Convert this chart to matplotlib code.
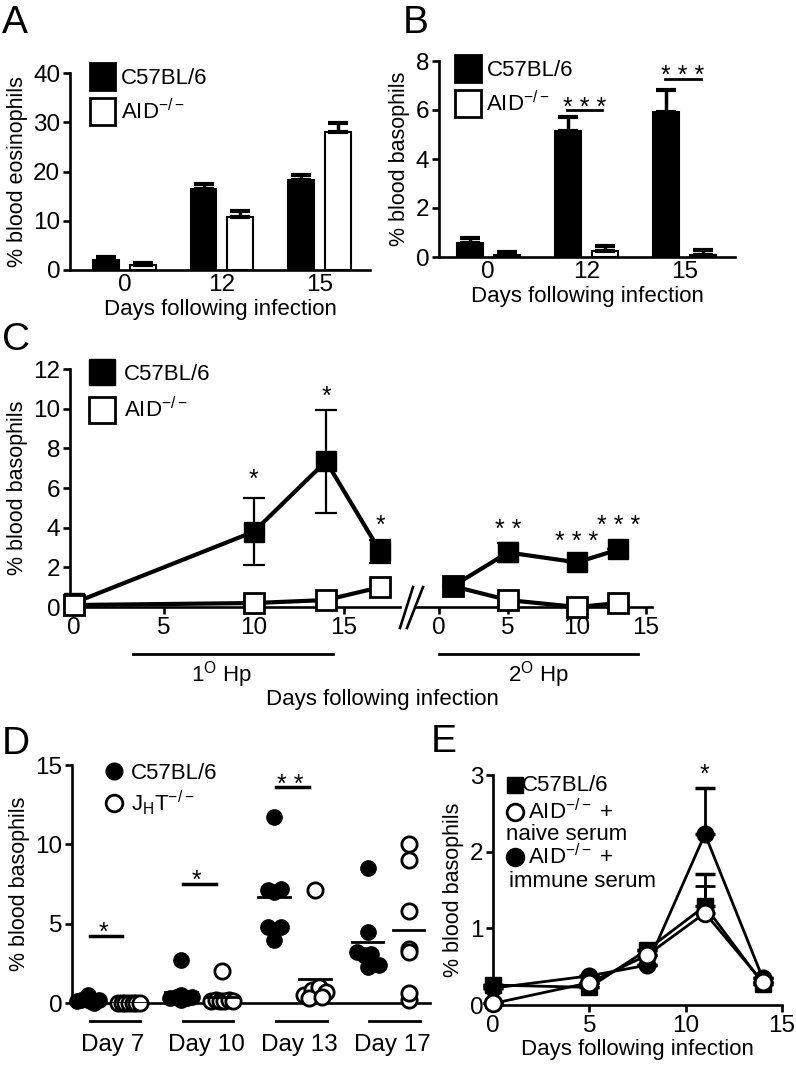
import numpy as np
import matplotlib
matplotlib.use('Agg')
import matplotlib.pyplot as plt
from matplotlib.patches import Patch
from matplotlib.lines import Line2D

plt.rcParams['font.family'] = ['Liberation Sans', 'DejaVu Sans']
plt.rcParams['mathtext.fontset'] = 'custom'
plt.rcParams['mathtext.rm'] = 'Liberation Sans'
plt.rcParams['mathtext.it'] = 'Liberation Sans:italic'
plt.rcParams['mathtext.bf'] = 'Liberation Sans:bold'

# ---- data ----
# A: blood eosinophils
days_ab = ['0', '12', '15']
eos_wt = [2.0, 16.5, 18.3]
eos_wt_err = [0.7, 0.9, 1.0]
eos_aid = [1.0, 10.7, 28.0]
eos_aid_err = [0.5, 1.3, 1.8]

# B: blood basophils
baso_wt = [0.57, 5.15, 5.9]
baso_wt_err = [0.22, 0.55, 0.9]
baso_aid = [0.1, 0.25, 0.1]
baso_aid_err = [0.12, 0.2, 0.2]
b_sig = ['', '***', '***']
b_sig_line = [0, 6.0, 7.27]
b_sig_star = [0, 6.4, 7.7]

# C: primary and secondary infection
c1_days = [0, 10, 14, 17]
c1_wt = [0.2, 3.8, 7.35, 2.8]
c1_wt_err = [0, 1.7, 2.6, 0.6]
c1_aid = [0.1, 0.2, 0.35, 1.0]
c1_sig = ['', '*', '*', '*']
c1_sig_star = [0, 6.77, 10.96, 4.49]
c2_days = [1, 5, 10, 13]
c2_wt = [1.05, 2.75, 2.25, 2.9]
c2_wt_err = [0, 0.5, 0, 0]
c2_aid = [1.05, 0.35, 0.0, 0.2]
c2_sig = ['', '**', '***', '***']
c2_sig_star = [0, 4.24, 3.64, 4.44]

# D: individual mice
d_days = ['Day 7', 'Day 10', 'Day 13', 'Day 17']
d_wt = [[0.1, 0.2, 0.5, 0.3, 0.1, 0.0, 0.2],
        [0.3, 0.5, 0.4, 0.2, 0.3, 2.7, 0.4],
        [11.7, 7.1, 7.0, 7.2, 4.8, 4.0, 4.8],
        [8.5, 4.5, 3.2, 3.0, 3.1, 2.4, 2.3]]
d_jht = [[0, 0, 0, 0, 0, 0, 0],
         [2.0, 0.1, 0.2, 0.1, 0.1, 0.2, 0.1],
         [7.1, 0.5, 0.8, 1.0, 0.7, 0.3, 0.4],
         [10.0, 9.0, 5.8, 3.4, 3.2, 0.2, 0.6]]
d_sig = ['*', '*', '**', '']
d_sig_line = [4.2, 7.5, 13.6, 0]
d_sig_star = [4.9, 8.2, 14.2, 0]

# E: serum transfer
e_days = [0, 5, 8, 11, 14]
e_wt = [0.26, 0.23, 0.72, 1.29, 0.28]
e_wt_err = [0, 0, 0, 0.42, 0]
e_naive = [0.02, 0.29, 0.65, 1.2, 0.3]
e_naive_err = [0, 0, 0, 0.35, 0]
e_immune = [0.22, 0.38, 0.52, 2.23, 0.35]
e_immune_err = [0, 0, 0, 0.6, 0]
e_sig_day = 11
e_sig_star = 3.1

AID = 'AID$^{-/-}$'
W, H = 796, 1075
FS = 16
TFS = 17.5
LW = 1.9
STAR_FS = 18

fig = plt.figure(figsize=(W / 100, H / 100), dpi=100)


def add_ax(l, t, r, b):
    ax = fig.add_axes([l / W, 1 - b / H, (r - l) / W, (b - t) / H])
    for s in ['top', 'right']:
        ax.spines[s].set_visible(False)
    for s in ['left', 'bottom']:
        ax.spines[s].set_linewidth(LW)
    ax.tick_params(width=LW, length=5, labelsize=TFS, direction='out', pad=2)
    return ax


def fig_line(x0, y0, x1, y1, lw=LW):
    fig.add_artist(Line2D([x0 / W, x1 / W], [1 - y0 / H, 1 - y1 / H], color='k', lw=lw))


def star(ax, x, y, s):
    # y is the visual centre of the asterisks
    ax.annotate(' '.join(s), (x, y), xytext=(0, -0.58 * STAR_FS), textcoords='offset points',
                ha='center', va='baseline', fontsize=STAR_FS, annotation_clip=False)


# ---- A ----
ax = add_ax(70, 73, 370, 270)
x = np.arange(len(days_ab))
bw, off = 0.264, 0.188
ax.bar(x - off, eos_wt, bw, color='k', edgecolor='k', lw=1.5)
ax.bar(x + off, eos_aid, bw, color='w', edgecolor='k', lw=1.5)
ax.errorbar(x - off, eos_wt, yerr=[np.zeros(3), eos_wt_err], fmt='none', ecolor='k', elinewidth=2.5, capsize=7, capthick=3)
ax.errorbar(x + off, eos_aid, yerr=[np.zeros(3), eos_aid_err], fmt='none', ecolor='k', elinewidth=2.5, capsize=7, capthick=3)
ax.set_xlim(-0.56, 2.52)
ax.set_ylim(0, 40)
ax.set_yticks([0, 10, 20, 30, 40])
ax.set_xticks(x, days_ab)
ax.tick_params(axis='x', length=0, pad=3)
ax.set_xlabel('Days following infection', fontsize=FS, labelpad=2)
ax.set_ylabel('% blood eosinophils', fontsize=15.5)
ax.legend([Patch(facecolor='k', edgecolor='k', lw=2), Patch(facecolor='w', edgecolor='k', lw=2)],
          ['C57BL/6', AID], loc='upper left', bbox_to_anchor=(0.065, 1.05), frameon=False,
          fontsize=FS, handlelength=1.15, handleheight=1.45, handletextpad=0.25, labelspacing=0.4,
          borderpad=0, borderaxespad=0)

# ---- B ----
ax = add_ax(439, 61, 735, 257)
ax.bar(x - off, baso_wt, bw, color='k', edgecolor='k', lw=1.5)
ax.bar(x + off, baso_aid, bw, color='w', edgecolor='k', lw=1.5)
ax.errorbar(x - off, baso_wt, yerr=[np.zeros(3), baso_wt_err], fmt='none', ecolor='k', elinewidth=2.5, capsize=7, capthick=3)
ax.errorbar(x + off, baso_aid, yerr=[np.zeros(3), baso_aid_err], fmt='none', ecolor='k', elinewidth=2.5, capsize=7, capthick=3)
for i, s in enumerate(b_sig):
    if s:
        ax.plot([i - 0.2, i + 0.16], [b_sig_line[i]] * 2, color='k', lw=2)
        star(ax, i - 0.02, b_sig_star[i], s)
ax.set_xlim(-0.5, 2.51)
ax.set_ylim(0, 8)
ax.set_yticks([0, 2, 4, 6, 8])
ax.set_xticks(x, days_ab)
ax.tick_params(axis='x', length=0, pad=3)
ax.set_xlabel('Days following infection', fontsize=FS, labelpad=2)
ax.set_ylabel('% blood basophils', fontsize=15.5)
ax.legend([Patch(facecolor='k', edgecolor='k', lw=2), Patch(facecolor='w', edgecolor='k', lw=2)],
          ['C57BL/6', AID], loc='upper left', bbox_to_anchor=(0.055, 1.03), frameon=False,
          fontsize=FS, handlelength=1.15, handleheight=1.45, handletextpad=0.25, labelspacing=0.4,
          borderpad=0, borderaxespad=0)

# ---- C ----
ax1 = add_ax(70, 369, 400, 607)
ax1.errorbar(c1_days, c1_wt, yerr=c1_wt_err, color='k', lw=3, marker='s', ms=14, mfc='k', mec='k',
             elinewidth=1.6, capsize=8, capthick=1.6, clip_on=False, zorder=3)
ax1.plot(c1_days, c1_aid, color='k', lw=3, marker='s', ms=14, mfc='w', mec='k', mew=2, clip_on=False, zorder=4)
for d, s, yv in zip(c1_days, c1_sig, c1_sig_star):
    if s:
        star(ax1, d, yv, s)
ax1.set_xlim(-0.2, 18.1)
ax1.set_ylim(0, 12)
ax1.set_yticks(range(0, 13, 2))
ax1.set_xticks([0, 5, 10, 15])
ax1.set_ylabel('% blood basophils', fontsize=15.5)
ax1.plot([3.3, 14.4], [-2.35, -2.35], color='k', lw=2, clip_on=False)
ax1.text(8.2, -3.4, '1$^{\\mathrm{O}}$ Hp', ha='center', va='center', fontsize=FS)
ax1.legend([Line2D([], [], ls='none', marker='s', ms=19, mfc='k', mec='k'),
            Line2D([], [], ls='none', marker='s', ms=19, mfc='w', mec='k', mew=2)],
           ['C57BL/6', AID], loc='upper left', bbox_to_anchor=(0.06, 1.02), frameon=False,
           fontsize=FS, handlelength=1.1, handletextpad=0.45, labelspacing=0.55, borderpad=0, borderaxespad=0)

ax2 = add_ax(415, 369, 652, 607)
ax2.spines['left'].set_visible(False)
ax2.errorbar(c2_days, c2_wt, yerr=c2_wt_err, color='k', lw=3, marker='s', ms=14, mfc='k', mec='k',
             elinewidth=1.6, capsize=8, capthick=1.6, clip_on=False, zorder=4)
ax2.plot(c2_days, c2_aid, color='k', lw=3, marker='s', ms=14, mfc='w', mec='k', mew=2, clip_on=False, zorder=3)
for d, s, yv in zip(c2_days, c2_sig, c2_sig_star):
    if s:
        star(ax2, d, yv, s)
ax2.set_xlim(-1.74, 15.43)
ax2.set_ylim(0, 12)
ax2.set_yticks([])
ax2.set_xticks([0, 5, 10, 15])
ax2.plot([0, 14.4], [-2.35, -2.35], color='k', lw=2, clip_on=False)
ax2.text(7.2, -3.4, '2$^{\\mathrm{O}}$ Hp', ha='center', va='center', fontsize=FS)
fig_line(400, 628, 413, 587)
fig_line(407, 628, 423, 587)
fig.text(382 / W, 1 - 700 / H, 'Days following infection', ha='center', va='center', fontsize=FS)

# ---- D ----
ax = add_ax(72, 765, 430, 1003)
xs_px, ys_px = 93.3, 15.87


def swarm(center, values, bin_px=15.0, max_step=13.0, max_width=22.0):
    # points whose values fall in the same bin are spread side by side
    bins = [int(round(v * ys_px / bin_px)) for v in values]
    out = []
    for v, b in zip(values, bins):
        members = [j for j, bb in enumerate(bins) if bb == b]
        n = len(members)
        k = members.index(len(out)) if len(out) in members else 0
        step = min(max_step, max_width / (n - 1)) if n > 1 else 0
        out.append(center + (k - (n - 1) / 2) * step / xs_px)
    return out


for i in range(len(d_days)):
    cw, cj = i - 0.27, i + 0.17
    ax.plot(swarm(cw, d_wt[i]), d_wt[i], ls='none', marker='o', ms=11, mfc='k', mec='k', clip_on=False, zorder=3)
    ax.plot(swarm(cj, d_jht[i]), d_jht[i], ls='none', marker='o', ms=11, mfc='w', mec='k', mew=2, clip_on=False, zorder=3)
    ax.plot([cw - 0.17, cw + 0.17], [np.mean(d_wt[i])] * 2, color='k', lw=2, zorder=4)
    ax.plot([cj - 0.17, cj + 0.17], [np.mean(d_jht[i])] * 2, color='k', lw=2, zorder=4)
    if d_sig[i]:
        ax.plot([i - 0.25, i + 0.1], [d_sig_line[i]] * 2, color='k', lw=2.5)
        star(ax, i - 0.1, d_sig_star[i], d_sig[i])
    ax.plot([i - 0.25, i + 0.29], [-1.15, -1.15], color='k', lw=2, clip_on=False)
ax.set_xlim(-0.44, 3.4)
ax.set_ylim(0, 15)
ax.set_yticks([0, 5, 10, 15])
ax.set_xticks(range(len(d_days)), d_days)
ax.tick_params(axis='x', length=0, pad=22)
ax.set_ylabel('% blood basophils', fontsize=15.5)
ax.legend([Line2D([], [], ls='none', marker='o', ms=12, mfc='k', mec='k'),
           Line2D([], [], ls='none', marker='o', ms=12, mfc='w', mec='k', mew=2)],
          ['C57BL/6', 'J$_{\\mathrm{H}}$T$^{-/-}$'], loc='upper left', bbox_to_anchor=(0.09, 1.01), frameon=False,
          fontsize=FS, handlelength=0.9, handletextpad=0.3, labelspacing=0.2, borderpad=0, borderaxespad=0)

# ---- E ----
ax = add_ax(493, 775, 782, 1005)
kw = dict(color='k', lw=2, elinewidth=2, capsize=7, capthick=2.5, clip_on=False)
ax.errorbar(e_days, e_wt, yerr=[np.zeros(5), e_wt_err], marker='s', ms=12, mfc='k', mec='k', zorder=3, **kw)
ax.errorbar(e_days, e_immune, yerr=[np.zeros(5), e_immune_err], marker='o', ms=12, mfc='k', mec='k', zorder=4, **kw)
ax.errorbar(e_days, e_naive, yerr=[np.zeros(5), e_naive_err], marker='o', ms=12, mfc='w', mec='k', mew=2, zorder=5, **kw)
star(ax, e_sig_day, e_sig_star, '*')
ax.set_xlim(0, 15)
ax.set_ylim(0, 3)
ax.set_xticks([0, 5, 10, 15])
ax.set_yticks([0, 1, 2, 3])
ax.set_xlabel('Days following infection', fontsize=FS, labelpad=2)
ax.set_ylabel('% blood basophils', fontsize=15.5)
# legend drawn by hand in axes coordinates
ax.plot([0.075], [0.955], transform=ax.transAxes, marker='s', ms=12, mfc='k', mec='k', clip_on=False)
ax.text(0.1, 0.955, 'C57BL/6', transform=ax.transAxes, va='center', fontsize=FS)
ax.plot([0.075], [0.84], transform=ax.transAxes, marker='o', ms=12, mfc='w', mec='k', mew=2, clip_on=False)
ax.text(0.12, 0.84, AID + ' +', transform=ax.transAxes, va='center', fontsize=FS)
ax.text(0.045, 0.74, 'naive serum', transform=ax.transAxes, va='center', fontsize=FS)
ax.plot([0.075], [0.645], transform=ax.transAxes, marker='o', ms=13, mfc='k', mec='k', clip_on=False)
ax.text(0.12, 0.645, AID + ' +', transform=ax.transAxes, va='center', fontsize=FS)
ax.text(0.055, 0.535, 'immune serum', transform=ax.transAxes, va='center', fontsize=FS)

# ---- panel letters ----
for lab, px, py in [('A', 2, 5), ('B', 403, 5), ('C', 2, 322), ('D', 2, 726), ('E', 431, 724)]:
    fig.text(px / W, 1 - py / H, lab, ha='left', va='top', fontsize=28)

fig.savefig('out.png', dpi=100)
